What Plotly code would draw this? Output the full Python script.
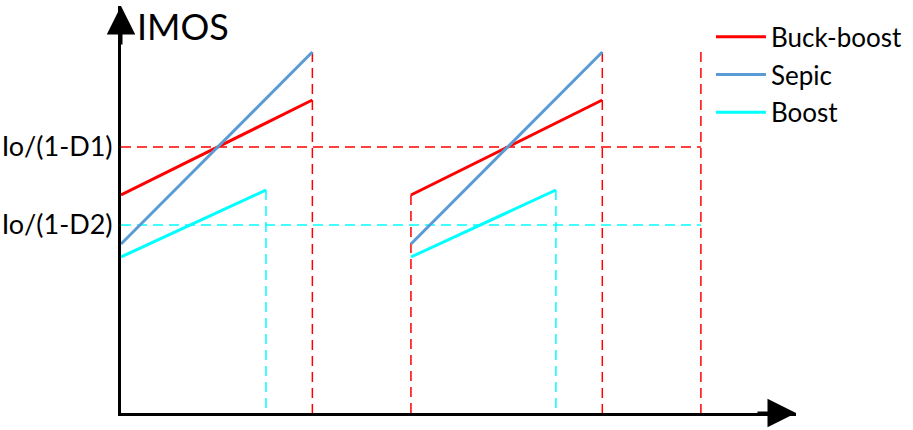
import plotly.graph_objects as go

# schematic MOSFET current waveforms over two switching periods (arbitrary units)
period_start = [0.0, 1.0]
period_end = 2.0
d1 = 0.66   # buck-boost / sepic on-time
d2 = 0.50   # boost on-time

buck_boost_i = [2.18, 3.13]   # start, end of ramp
sepic_i = [1.69, 3.61]
boost_i = [1.56, 2.23]

level_labels = ["Io/(1-D1)", "Io/(1-D2)"]
level_values = [2.66, 1.88]

names = ["Buck-boost", "Sepic", "Boost"]
colors = ["#FF0000", "#5B9BD5", "#00FFFF"]
duties = [d1, d1, d2]
currents = [buck_boost_i, sepic_i, boost_i]

FONT = "Lato"
dash = "10px,6px"


def ramps(duty, cur):
    xs, ys = [], []
    for t0 in period_start:
        xs += [t0, t0 + duty, None]
        ys += [cur[0], cur[1], None]
    return xs, ys


fig = go.Figure()

# dashed guide lines
fig.add_trace(go.Scatter(x=[0, period_end], y=[level_values[0]] * 2, mode="lines",
                         line=dict(color=colors[0], width=1.5, dash=dash),
                         showlegend=False, hoverinfo="skip"))
fig.add_trace(go.Scatter(x=[0, period_end], y=[level_values[1]] * 2, mode="lines",
                         line=dict(color=colors[2], width=1.5, dash=dash),
                         showlegend=False, hoverinfo="skip"))

vx, vy = [], []
for t0 in period_start:
    vx += [t0 + d1, t0 + d1, None]
    vy += [sepic_i[1], 0, None]
for t0 in period_start[1:]:
    vx += [t0, t0, None]
    vy += [buck_boost_i[0], 0, None]
vx += [period_end, period_end, None]
vy += [sepic_i[1], 0, None]
fig.add_trace(go.Scatter(x=vx, y=vy, mode="lines",
                         line=dict(color=colors[0], width=1.5, dash=dash),
                         showlegend=False, hoverinfo="skip"))

cx, cy = [], []
for t0 in period_start:
    cx += [t0 + d2, t0 + d2, None]
    cy += [boost_i[1], 0, None]
fig.add_trace(go.Scatter(x=cx, y=cy, mode="lines",
                         line=dict(color=colors[2], width=1.5, dash=dash),
                         showlegend=False, hoverinfo="skip"))

# current ramps
for name, col, duty, cur in zip(names, colors, duties, currents):
    xs, ys = ramps(duty, cur)
    fig.add_trace(go.Scatter(x=xs, y=ys, mode="lines", name=name,
                             line=dict(color=col, width=3), legendgroup=name))

# axis arrows
fig.add_annotation(xref="paper", yref="paper", x=1, y=0, ax=-40, ay=0,
                   showarrow=True, arrowhead=2, arrowsize=1.9, arrowwidth=3,
                   arrowcolor="black", text="")
fig.add_annotation(xref="paper", yref="paper", x=0, y=1, ax=0, ay=40,
                   showarrow=True, arrowhead=2, arrowsize=1.9, arrowwidth=3,
                   arrowcolor="black", text="")
fig.add_annotation(xref="x", yref="paper", x=0, y=1, xanchor="left", yanchor="top",
                   xshift=14, yshift=4, showarrow=False, text="IMOS",
                   font=dict(family=FONT, size=36, color="black"))

fig.update_layout(
    width=913, height=430,
    margin=dict(l=121, r=117, t=6, b=17, autoexpand=False),
    plot_bgcolor="white", paper_bgcolor="white",
    font=dict(family=FONT, color="black"),
    xaxis=dict(range=[0, 2.328], showgrid=False, zeroline=False,
               showline=True, linewidth=3, linecolor="black",
               showticklabels=False, ticks="", automargin=False),
    yaxis=dict(range=[0, 4.07], showgrid=False, zeroline=False,
               showline=True, linewidth=3, linecolor="black",
               tickvals=level_values, ticktext=level_labels, ticks="",
               automargin=False,
               tickfont=dict(family=FONT, size=27, color="black")),
    legend=dict(x=0.874, y=0.982, xanchor="left", yanchor="top",
                font=dict(family=FONT, size=26, color="black"),
                bgcolor="rgba(0,0,0,0)", tracegroupgap=1, itemwidth=50),
    showlegend=True,
)

# drop the page's default body margin so the figure sits at the window corner
fig.write_html("out.html", config={"displayModeBar": False},
               post_script="document.body.style.margin='0';")
